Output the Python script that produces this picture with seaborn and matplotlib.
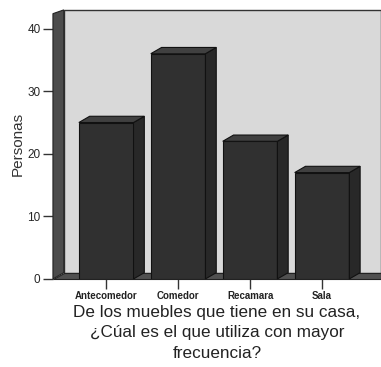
import numpy as np
import matplotlib
matplotlib.use('Agg')
import matplotlib.pyplot as plt
import seaborn as sns
from matplotlib.patches import Polygon

categorias = ['Antecomedor', 'Comedor', 'Recamara', 'Sala']
personas = [25, 36, 22, 17]
yticks = [0, 10, 20, 30, 40]

sns.set_style('white')
plt.rcParams['font.family'] = ['Liberation Sans', 'DejaVu Sans']

fig = plt.figure(figsize=(3.81, 3.67), dpi=100)
ax = fig.add_axes([0.139, 0.24, 0.861, 0.733])

sns.barplot(x=categorias, y=personas, color='#303030', width=0.76,
            edgecolor='#111111', linewidth=0.8, ax=ax, zorder=3)

x0, x1 = -0.74, 3.82
y0, y1 = 0, 43
ax.set_xlim(x0, x1)
ax.set_ylim(y0, y1)
dx, dy = 0.15, 1.0

# back wall, left wall, floor
ax.add_patch(Polygon([(x0 + dx, dy), (x1, dy), (x1, y1), (x0 + dx, y1)],
                     closed=True, facecolor='#d9d9d9', edgecolor='#333333',
                     linewidth=1.0, zorder=0, clip_on=False))
ax.add_patch(Polygon([(x0, 0), (x0 + dx, dy), (x0 + dx, y1), (x0, y1 - 0.6)],
                     closed=True, facecolor='#4c4c4c', edgecolor='#222222',
                     linewidth=0.8, zorder=1, clip_on=False))
ax.add_patch(Polygon([(x0, 0), (x1, 0), (x1, dy), (x0 + dx, dy)],
                     closed=True, facecolor='#505050', edgecolor='#222222',
                     linewidth=0.8, zorder=1, clip_on=False))

# 3D sides and tops of bars
for p in ax.patches[:len(categorias)]:
    bx, bw, bh = p.get_x(), p.get_width(), p.get_height()
    ax.add_patch(Polygon([(bx + bw, 0), (bx + bw + dx, dy), (bx + bw + dx, bh + dy), (bx + bw, bh)],
                         closed=True, facecolor='#282828', edgecolor='#111111',
                         linewidth=0.8, zorder=3, clip_on=False))
    ax.add_patch(Polygon([(bx, bh), (bx + bw, bh), (bx + bw + dx, bh + dy), (bx + dx, bh + dy)],
                         closed=True, facecolor='#404040', edgecolor='#111111',
                         linewidth=0.8, zorder=3, clip_on=False))

for s in ax.spines.values():
    s.set_visible(False)

ax.set_yticks(yticks)
ax.tick_params(axis='y', length=7, width=1, color='#333333', labelsize=8.5, pad=2, left=True)
ax.tick_params(axis='x', length=7, width=1, color='#333333', labelsize=7, pad=2, bottom=True)
for t in ax.get_xticklabels():
    t.set_fontweight('bold')
    t.set_color('#222222')

ax.set_ylabel('Personas', fontsize=11, color='#333333', labelpad=2)
ax.set_xlabel('De los muebles que tiene en su casa,\n¿Cúal es el que utiliza con mayor\nfrecuencia?',
              fontsize=12.3, color='#222222', linespacing=1.45, labelpad=2.5)

fig.savefig('out.png', dpi=100)
